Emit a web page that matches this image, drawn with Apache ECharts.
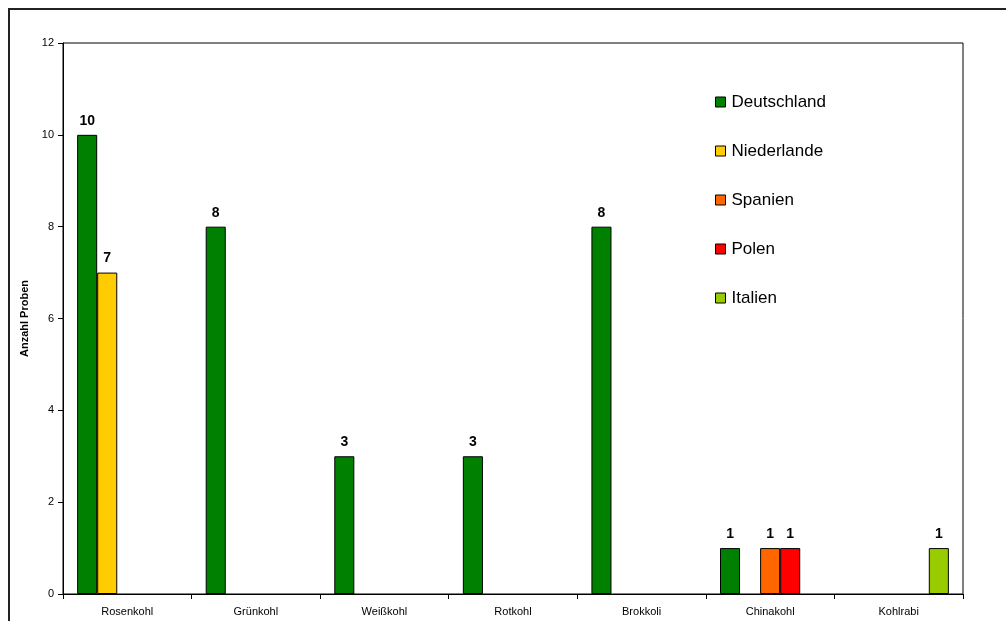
<!DOCTYPE html>
<html>
<head>
<meta charset="utf-8">
<script src="https://cdn.jsdelivr.net/npm/echarts@6/dist/echarts.min.js"></script>
<style>
  html, body { margin: 0; padding: 0; background: #fff; }
  #chart { width: 1006px; height: 621px; }
</style>
</head>
<body>
<div id="chart"></div>
<script>
// Kohlgemüse: Anzahl Proben nach Herkunftsland
const categories = ['Rosenkohl', 'Grünkohl', 'Weißkohl', 'Rotkohl', 'Brokkoli', 'Chinakohl', 'Kohlrabi'];
const countries = ['Deutschland', 'Niederlande', 'Spanien', 'Polen', 'Italien'];
const deutschland = [10, 8, 3, 3, 8, 1, null];
const niederlande = [7, null, null, null, null, null, null];
const spanien     = [null, null, null, null, null, 1, null];
const polen       = [null, null, null, null, null, 1, null];
const italien     = [null, null, null, null, null, null, 1];
const yTicks = [0, 2, 4, 6, 8, 10, 12];

const colors = ['#008000', '#ffcc00', '#ff6600', '#ff0000', '#99cc00'];
const values = [deutschland, niederlande, spanien, polen, italien];

const chart = echarts.init(document.getElementById('chart'));
const font = 'Arial, "Liberation Sans", sans-serif';

chart.setOption({
  animation: false,
  backgroundColor: '#fff',
  grid: {
    left: 63, right: 43, top: 43, bottom: 27,
    show: true, borderColor: '#000', borderWidth: 1, backgroundColor: 'transparent'
  },
  graphic: [{
    type: 'rect',
    shape: { x: 9, y: 9, width: 1010, height: 630 },
    style: { fill: 'none', stroke: '#222', lineWidth: 2 },
    silent: true, z: 100
  }],
  legend: {
    orient: 'vertical',
    left: 710, top: 87,
    itemWidth: 10, itemHeight: 10, itemGap: 29,
    icon: 'rect',
    textStyle: { fontFamily: font, fontSize: 17, color: '#000', padding: [0, 0, 0, 1], lineHeight: 20 },
    data: countries.map((n, i) => ({ name: n, itemStyle: { color: colors[i], borderColor: '#000', borderWidth: 1 } }))
  },
  xAxis: {
    type: 'category',
    data: categories,
    axisLine: { lineStyle: { color: '#000', width: 1 } },
    axisTick: { show: true, alignWithLabel: false, length: 5, lineStyle: { color: '#000' } },
    axisLabel: { fontFamily: font, fontSize: 11, color: '#000', margin: 12 }
  },
  yAxis: {
    type: 'value',
    min: yTicks[0], max: yTicks[yTicks.length - 1], interval: 2,
    name: 'Anzahl Proben',
    nameLocation: 'middle',
    nameGap: 32,
    nameTextStyle: { fontFamily: font, fontSize: 11, fontWeight: 'bold', color: '#000' },
    splitLine: { show: false },
    axisLine: { show: true, lineStyle: { color: '#000', width: 1 } },
    axisTick: { show: true, length: 5, lineStyle: { color: '#000' } },
    axisLabel: { fontFamily: font, fontSize: 11, color: '#000', margin: 9 }
  },
  series: countries.map((name, i) => ({
    name: name,
    type: 'bar',
    data: values[i],
    barGap: '0%',
    barCategoryGap: '22%',
    itemStyle: { color: colors[i], borderColor: '#000', borderWidth: 1 },
    label: {
      show: true, position: 'top', distance: 7,
      fontFamily: font, fontSize: 14, fontWeight: 'bold', color: '#000'
    }
  }))
});
</script>
</body>
</html>
